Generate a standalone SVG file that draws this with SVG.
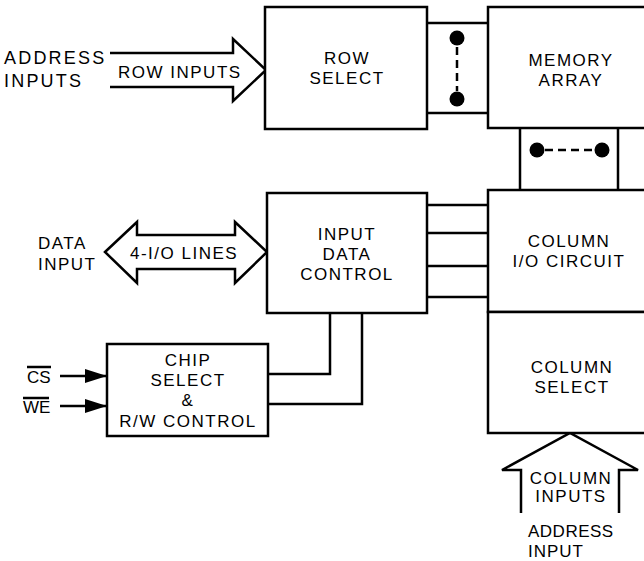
<svg xmlns="http://www.w3.org/2000/svg" width="644" height="561" viewBox="0 0 644 561">
<style>
  .box { fill: #fff; stroke: #000; stroke-width: 2.5; }
  .ln { fill: none; stroke: #000; stroke-width: 2.5; }
  .big { fill: #fff; stroke: #000; stroke-width: 2.5; stroke-linejoin: miter; }
  .dash { fill: none; stroke: #000; stroke-width: 2.5; stroke-dasharray: 8 5; }
  .dot { fill: #000; }
  text { font-family: "Liberation Sans", Arial, sans-serif; font-size: 17px; letter-spacing: 1.5px; fill: #000; }
  .c { text-anchor: middle; }
  .lbl { font-size: 18px; letter-spacing: 2.2px; }
</style>
<defs>
  <marker id="ah" markerWidth="22" markerHeight="14" refX="22" refY="7" orient="auto" markerUnits="userSpaceOnUse">
    <path d="M0,0 L22,7 L0,14 Z" fill="#000"/>
  </marker>
</defs>
<rect width="644" height="561" fill="#fff"/>

<g id="connectors">
  <!-- row inputs arrow -->
  <path class="big" d="M110,53 H233 V39 L266,70 L233,101 V87 H110"/>
  <!-- data double arrow -->
  <path class="big" d="M105,252 L137,222 V235 H235 V222 L267,252 L235,283 V269 H137 V283 Z"/>
  <!-- column inputs arrow -->
  <path class="big" d="M521,513 V470 H502 L570,433 L638,470 H619 V513"/>
  <!-- row select to memory array bus -->
  <path class="ln" d="M427,23 H488 M427,113 H488"/>
  <line class="dash" x1="457" y1="47" x2="457" y2="91"/>
  <circle class="dot" cx="457" cy="38" r="7.5"/>
  <circle class="dot" cx="457" cy="99" r="7.5"/>
  <!-- memory array to column I/O bus -->
  <path class="ln" d="M520,128 V190 M618,128 V190"/>
  <line class="dash" x1="545" y1="150" x2="594" y2="150"/>
  <circle class="dot" cx="537" cy="150" r="7.5"/>
  <circle class="dot" cx="602" cy="150" r="7.5"/>
  <!-- input data control to column I/O -->
  <path class="ln" d="M427,205 H488 M427,233 H488 M427,266 H488 M427,297 H488"/>
  <!-- chip select to input data control -->
  <path class="ln" d="M330,313 V374 H268 M362,313 V404 H268"/>
  <!-- CS / WE inputs -->
  <line class="ln" x1="60" y1="376" x2="107" y2="376" marker-end="url(#ah)"/>
  <line class="ln" x1="60" y1="406" x2="107" y2="406" marker-end="url(#ah)"/>
</g>

<g id="row-select">
  <rect class="box" x="265" y="7" width="162" height="122"/>
  <text class="c" x="347" y="64">ROW</text>
  <text class="c" x="347" y="84">SELECT</text>
</g>

<g id="memory-array">
  <rect class="box" x="488" y="7" width="170" height="121"/>
  <text class="c" x="571" y="66">MEMORY</text>
  <text class="c" x="571" y="86">ARRAY</text>
</g>

<g id="input-data-control">
  <rect class="box" x="267" y="193" width="160" height="120"/>
  <text class="c" x="347" y="240">INPUT</text>
  <text class="c" x="347" y="260">DATA</text>
  <text class="c" x="347" y="280">CONTROL</text>
</g>

<g id="column-io">
  <rect class="box" x="488" y="190" width="170" height="122"/>
  <text class="c" x="569" y="247">COLUMN</text>
  <text class="c" x="569" y="267">I/O CIRCUIT</text>
</g>

<g id="column-select">
  <rect class="box" x="488" y="312" width="170" height="121"/>
  <text class="c" x="572" y="373">COLUMN</text>
  <text class="c" x="572" y="393">SELECT</text>
</g>

<g id="chip-select">
  <rect class="box" x="107" y="344" width="161" height="92"/>
  <text class="c" x="188" y="366">CHIP</text>
  <text class="c" x="188" y="386">SELECT</text>
  <text class="c" x="188" y="406">&amp;</text>
  <text class="c" x="188" y="427">R/W CONTROL</text>
</g>

<g id="labels">
  <text class="lbl" x="4" y="64">ADDRESS</text>
  <text class="lbl" x="4" y="87">INPUTS</text>
  <text x="118" y="78">ROW INPUTS</text>
  <text x="38" y="249">DATA</text>
  <text x="38" y="270">INPUT</text>
  <text x="130" y="259">4-I/O LINES</text>
  <text x="27" y="383" style="letter-spacing:0">CS</text>
  <line class="ln" x1="27" y1="367" x2="51" y2="367" stroke-width="1.5"/>
  <text x="23" y="413" style="letter-spacing:0">WE</text>
  <line class="ln" x1="23" y1="398" x2="49" y2="398" stroke-width="1.5"/>
  <text class="c" x="571" y="484">COLUMN</text>
  <text class="c" x="571" y="502">INPUTS</text>
  <text x="528" y="537" style="letter-spacing:0.5px">ADDRESS</text>
  <text x="528" y="557" style="letter-spacing:1px">INPUT</text>
</g>
</svg>
